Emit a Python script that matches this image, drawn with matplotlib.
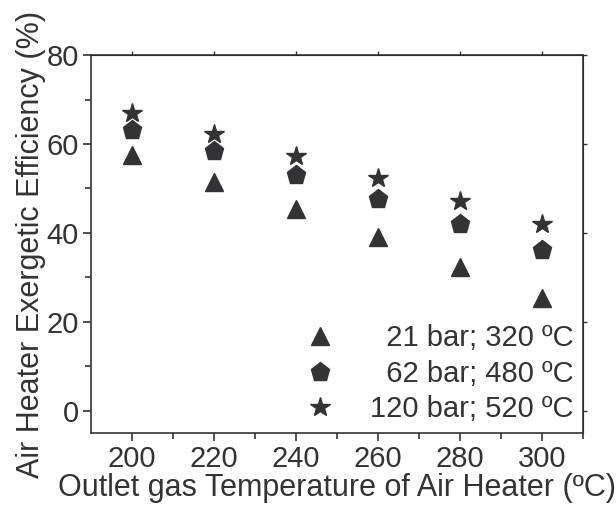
import matplotlib.pyplot as plt
import numpy as np

plt.rcParams['font.family'] = ['Liberation Sans', 'DejaVu Sans']

temp = np.array([200, 220, 240, 260, 280, 300])
eff_21 = np.array([57.5, 51.4, 45.4, 39.0, 32.4, 25.4])
eff_62 = np.array([63.2, 58.4, 53.0, 47.7, 42.1, 36.2])
eff_120 = np.array([67.0, 62.3, 57.3, 52.4, 47.2, 42.1])
labels = ['\u200721 bar; 320 ºC', '\u200762 bar; 480 ºC', '120 bar; 520 ºC']

col = '#333336'
fig = plt.figure(figsize=(6.16, 5.11), dpi=100)
ax = fig.add_axes([0.148, 0.153, 0.798, 0.739])

ax.plot(temp, eff_21, linestyle='none', marker='^', ms=13, color=col, label=labels[0])
ax.plot(temp, eff_62, linestyle='none', marker='p', ms=14, color=col, label=labels[1])
ax.plot(temp, eff_120, linestyle='none', marker='*', ms=15, color=col, label=labels[2])

ax.set_xlim(190, 310)
ax.set_ylim(-5, 80)
ax.set_xticks([200, 220, 240, 260, 280, 300])
ax.set_xticks([210, 230, 250, 270, 290, 310], minor=True)
ax.set_yticks([0, 20, 40, 60, 80])
ax.set_yticks([10, 30, 50, 70], minor=True)
ax.tick_params(which='both', direction='out', colors=col, labelsize=21, width=1.2)
ax.tick_params(which='major', length=6, pad=3)
ax.tick_params(which='minor', length=4)
for s in ax.spines.values():
    s.set_color(col)
    s.set_linewidth(1.2)

# small ticks on the top and right frame
top = ax.secondary_xaxis('top')
top.set_xticks([200, 220, 240, 260, 280, 300], labels=[])
top.tick_params(colors=col, length=3, width=1)
right = ax.secondary_yaxis('right')
right.set_yticks([0, 20, 40, 60, 80], labels=[])
right.tick_params(colors=col, length=3, width=1)

ax.set_xlabel('Outlet gas Temperature of Air Heater (ºC)', fontsize=22, color=col, labelpad=0)
ax.set_ylabel('Air Heater Exergetic Efficiency (%)', fontsize=22, color=col, labelpad=0)

leg = ax.legend(loc='lower right', bbox_to_anchor=(1.005, -0.005), frameon=False, fontsize=21,
                handletextpad=0.95, labelspacing=0.25, borderaxespad=0.0, handlelength=1.5,
                labelcolor=col)

fig.savefig('out.png', dpi=100)
